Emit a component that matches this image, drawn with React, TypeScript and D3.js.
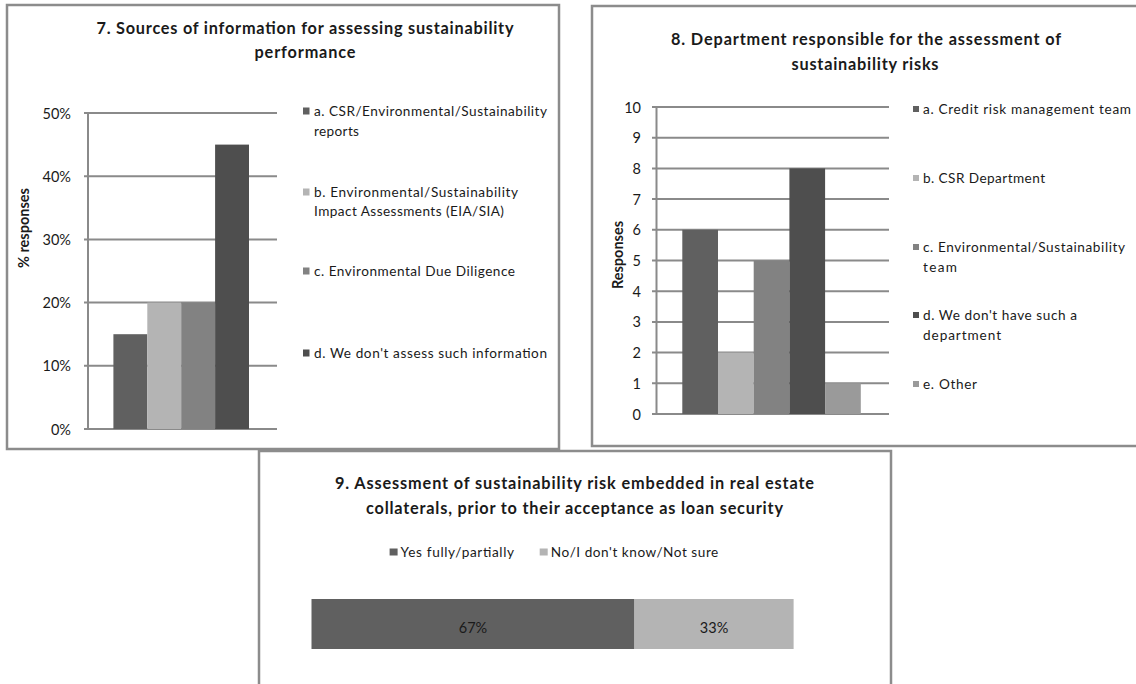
import React from "react";
import * as d3 from "d3";

// ---------- Data ----------
const c1Categories = [
  "a. CSR/Environmental/Sustainability reports",
  "b. Environmental/Sustainability Impact Assessments (EIA/SIA)",
  "c. Environmental Due Diligence",
  "d. We don't assess such information",
];
const c1Values = [0.15, 0.2, 0.2, 0.45];
const c1Ticks = [0, 0.1, 0.2, 0.3, 0.4, 0.5];
const c1LegendLines = [
  ["a. CSR/Environmental/Sustainability", "reports"],
  ["b. Environmental/Sustainability", "Impact Assessments (EIA/SIA)"],
  ["c. Environmental Due Diligence"],
  ["d. We don't assess such information"],
];
const c1Colors = ["#606060", "#b4b4b4", "#828282", "#4e4e4e"];

const c2Categories = [
  "a. Credit risk management team",
  "b. CSR Department",
  "c. Environmental/Sustainability team",
  "d. We don't have such a department",
  "e. Other",
];
const c2Values = [6, 2, 5, 8, 1];
const c2Ticks = [0, 1, 2, 3, 4, 5, 6, 7, 8, 9, 10];
const c2LegendLines = [
  ["a. Credit risk management team"],
  ["b. CSR Department"],
  ["c. Environmental/Sustainability", "team"],
  ["d. We don't have such a", "department"],
  ["e. Other"],
];
const c2Colors = ["#606060", "#b4b4b4", "#828282", "#4e4e4e", "#9a9a9a"];

const c3Categories = ["Yes fully/partially", "No/I don't know/Not sure"];
const c3Values = [0.67, 0.33];
const c3Colors = ["#606060", "#b4b4b4"];

const FONT = "Lato, 'Open Sans', sans-serif";
const TEXT = "#1a1a1a";
const GRID = "#8a8a8a";
const BORDER = "#8c8c8c";
const TITLE_SIZE = 16.3;
const LEGEND_SIZE = 13.6;
const TICK_SIZE = 14.5;

function Chart1() {
  const y = d3.scaleLinear().domain([0, 0.5]).range([429, 113]);
  const x = d3.scaleBand<string>().domain(c1Categories).range([113.4, 249]).padding(0);
  const fmt = d3.format(".0%");
  const legendY = [[111, 131], [192, 211], [271], [353]];
  const legendW = [[233, 45], [204, 190], [201], [233]];
  return (
    <g>
      <rect x={7} y={5} width={552} height={444} fill="#fff" stroke={BORDER} strokeWidth={2.5} />
      <text x={305} y={27} textAnchor="middle" dominantBaseline="central" fontFamily={FONT} fontWeight={700} fontSize={TITLE_SIZE} fill={TEXT} textLength={417}>
        7. Sources of information for assessing sustainability
      </text>
      <text x={305} y={51} textAnchor="middle" dominantBaseline="central" fontFamily={FONT} fontWeight={700} fontSize={TITLE_SIZE} fill={TEXT} textLength={101}>
        performance
      </text>
      {c1Ticks.map((t) => (
        <g key={t}>
          <line x1={84} x2={277} y1={y(t)} y2={y(t)} stroke={GRID} strokeWidth={2} />
          <text x={71} y={y(t)} textAnchor="end" dominantBaseline="central" fontFamily={FONT} fontSize={TICK_SIZE} fill={TEXT}>
            {fmt(t)}
          </text>
        </g>
      ))}
      <line x1={88} x2={88} y1={y(0.5)} y2={y(0)} stroke={GRID} strokeWidth={2} />
      {c1Categories.map((c, i) => (
        <rect key={c} x={x(c)} y={y(c1Values[i])} width={x.bandwidth()} height={y(0) - y(c1Values[i])} fill={c1Colors[i]} />
      ))}
      <text transform={`translate(23,228) rotate(-90)`} textAnchor="middle" dominantBaseline="central" fontFamily={FONT} fontWeight={700} fontSize={14.5} fill={TEXT}>
        % responses
      </text>
      {c1LegendLines.map((lines, i) => (
        <g key={i}>
          <rect x={303} y={legendY[i][0] - 3.5} width={6.5} height={7} fill={c1Colors[i]} />
          {lines.map((l, j) => (
            <text key={j} x={314} y={legendY[i][j]} dominantBaseline="central" fontFamily={FONT} fontSize={LEGEND_SIZE} fill={TEXT} textLength={legendW[i][j]}>
              {l}
            </text>
          ))}
        </g>
      ))}
    </g>
  );
}

function Chart2() {
  const y = d3.scaleLinear().domain([0, 10]).range([414, 107]);
  const x = d3.scaleBand<string>().domain(c2Categories).range([682.3, 860.8]).padding(0);
  const legendY = [[109], [178], [247, 267], [315, 335], [384]];
  const legendW = [[208], [122], [202, 34], [154, 78], [54]];
  return (
    <g>
      <rect x={592} y={6} width={560} height={440} fill="#fff" stroke={BORDER} strokeWidth={2.5} />
      <text x={866} y={38} textAnchor="middle" dominantBaseline="central" fontFamily={FONT} fontWeight={700} fontSize={TITLE_SIZE} fill={TEXT} textLength={390}>
        8. Department responsible for the assessment of
      </text>
      <text x={865} y={63} textAnchor="middle" dominantBaseline="central" fontFamily={FONT} fontWeight={700} fontSize={TITLE_SIZE} fill={TEXT} textLength={147}>
        sustainability risks
      </text>
      {c2Ticks.map((t) => (
        <g key={t}>
          <line x1={652} x2={889} y1={y(t)} y2={y(t)} stroke={GRID} strokeWidth={2} />
          <text x={641} y={y(t)} textAnchor="end" dominantBaseline="central" fontFamily={FONT} fontSize={TICK_SIZE} fill={TEXT}>
            {t}
          </text>
        </g>
      ))}
      <line x1={656.5} x2={656.5} y1={y(10)} y2={y(0)} stroke={GRID} strokeWidth={2} />
      {c2Categories.map((c, i) => (
        <rect key={c} x={x(c)} y={y(c2Values[i])} width={x.bandwidth()} height={y(0) - y(c2Values[i])} fill={c2Colors[i]} />
      ))}
      <text transform={`translate(617,255) rotate(-90)`} textAnchor="middle" dominantBaseline="central" fontFamily={FONT} fontWeight={700} fontSize={14.5} fill={TEXT}>
        Responses
      </text>
      {c2LegendLines.map((lines, i) => (
        <g key={i}>
          <rect x={913} y={legendY[i][0] - 3} width={6} height={6} fill={c2Colors[i]} />
          {lines.map((l, j) => (
            <text key={j} x={923} y={legendY[i][j]} dominantBaseline="central" fontFamily={FONT} fontSize={LEGEND_SIZE} fill={TEXT} textLength={legendW[i][j]}>
              {l}
            </text>
          ))}
        </g>
      ))}
    </g>
  );
}

function Chart3() {
  const x = d3.scaleLinear().domain([0, 1]).range([311.5, 793.6]);
  const stacked = c3Values.map((v, i) => ({
    start: d3.sum(c3Values.slice(0, i)),
    end: d3.sum(c3Values.slice(0, i + 1)),
    v,
  }));
  const fmt = d3.format(".0%");
  const legendX = [389.6, 539.7];
  const legendW = [113.5, 167.6];
  return (
    <g>
      <rect x={259} y={451} width={632} height={260} fill="#fff" stroke={BORDER} strokeWidth={2.5} />
      <text x={574.5} y={482} textAnchor="middle" dominantBaseline="central" fontFamily={FONT} fontWeight={700} fontSize={TITLE_SIZE} fill={TEXT} textLength={479}>
        9. Assessment of sustainability risk embedded in real estate
      </text>
      <text x={574.5} y={507.5} textAnchor="middle" dominantBaseline="central" fontFamily={FONT} fontWeight={700} fontSize={TITLE_SIZE} fill={TEXT} textLength={417}>
        collaterals, prior to their acceptance as loan security
      </text>
      {c3Categories.map((c, i) => (
        <g key={c}>
          <rect x={legendX[i]} y={552 - 3.5} width={8} height={7} fill={c3Colors[i]} />
          <text x={legendX[i] + 11} y={552} dominantBaseline="central" fontFamily={FONT} fontSize={LEGEND_SIZE} fill={TEXT} textLength={legendW[i]}>
            {c}
          </text>
        </g>
      ))}
      {stacked.map((s, i) => (
        <g key={i}>
          <rect x={x(s.start)} y={599} width={x(s.end) - x(s.start)} height={50} fill={c3Colors[i]} />
          <text x={(x(s.start) + x(s.end)) / 2} y={627} textAnchor="middle" dominantBaseline="central" fontFamily={FONT} fontSize={TICK_SIZE} fill={TEXT}>
            {fmt(s.v)}
          </text>
        </g>
      ))}
    </g>
  );
}

export default function App() {
  return (
    <svg width={1136} height={684} style={{ position: "absolute", left: 0, top: 0, background: "#fff" }}>
      <rect x={0} y={0} width={1136} height={684} fill="#fff" />
      <Chart3 />
      <Chart1 />
      <Chart2 />
    </svg>
  );
}
